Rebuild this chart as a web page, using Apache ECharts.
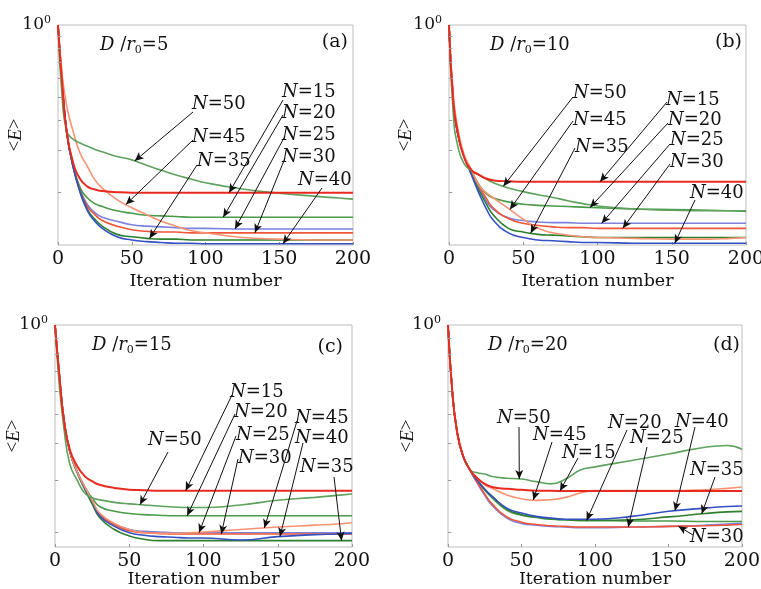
<!DOCTYPE html>
<html>
<head>
<meta charset="utf-8">
<script src="https://cdn.jsdelivr.net/npm/echarts@6/dist/echarts.min.js"></script>
<style>
html, body { margin: 0; padding: 0; background: #fff; }
#chart { width: 761px; height: 589px; }
</style>
</head>
<body>
<div id="chart"></div>
<script>
var iterations = [0, 3, 6, 10, 15, 20, 25, 30, 40, 50, 60, 70, 80, 90, 100, 125, 150, 175, 190, 200];
var sampleSizes = [15, 20, 25, 30, 35, 40, 45, 50];
var ratios = [5, 10, 15, 20];
var panelTags = ['(a)', '(b)', '(c)', '(d)'];
var xTicks = [0, 50, 100, 150, 200];
var yMinorTicks = [0.2, 0.3, 0.4, 0.5, 0.6, 0.7, 0.8, 0.9];

// (a) D/r0 = 5
var errA15 = [1, 0.553, 0.354, 0.27, 0.228, 0.212, 0.206, 0.203, 0.201, 0.2, 0.2, 0.2, 0.2, 0.2, 0.2, 0.2, 0.2, 0.2, 0.2, 0.2];
var errA20 = [1, 0.553, 0.354, 0.265, 0.21, 0.19, 0.18, 0.175, 0.168, 0.164, 0.161, 0.16, 0.159, 0.158, 0.158, 0.158, 0.158, 0.158, 0.158, 0.158];
var errA25 = [1, 0.553, 0.354, 0.262, 0.205, 0.178, 0.165, 0.158, 0.152, 0.147, 0.145, 0.144, 0.143, 0.142, 0.142, 0.141, 0.141, 0.141, 0.141, 0.141];
var errA30 = [1, 0.553, 0.354, 0.262, 0.205, 0.175, 0.162, 0.153, 0.145, 0.14, 0.138, 0.137, 0.137, 0.136, 0.136, 0.136, 0.136, 0.136, 0.136, 0.136];
var errA35 = [1, 0.553, 0.354, 0.26, 0.203, 0.17, 0.155, 0.145, 0.134, 0.131, 0.129, 0.128, 0.128, 0.127, 0.127, 0.127, 0.127, 0.127, 0.127, 0.127];
var errA40 = [1, 0.553, 0.354, 0.26, 0.2, 0.168, 0.152, 0.142, 0.131, 0.127, 0.125, 0.124, 0.123, 0.123, 0.1225, 0.1225, 0.1225, 0.1225, 0.1225, 0.1225];
var errA45 = [1, 0.609, 0.457, 0.365, 0.292, 0.257, 0.226, 0.209, 0.187, 0.173, 0.162, 0.152, 0.145, 0.139, 0.136, 0.13, 0.128, 0.127, 0.127, 0.127];
var errA50 = [1, 0.48, 0.36, 0.335, 0.322, 0.312, 0.303, 0.296, 0.283, 0.274, 0.26, 0.248, 0.237, 0.228, 0.22, 0.207, 0.199, 0.193, 0.19, 0.188];

// (b) D/r0 = 10
var errB15 = [1, 0.47, 0.354, 0.283, 0.249, 0.238, 0.229, 0.225, 0.223, 0.222, 0.222, 0.222, 0.222, 0.222, 0.222, 0.222, 0.222, 0.222, 0.222, 0.222];
var errB20 = [1, 0.47, 0.35, 0.285, 0.247, 0.217, 0.198, 0.19, 0.183, 0.179, 0.177, 0.176, 0.175, 0.174, 0.173, 0.171, 0.17, 0.169, 0.168, 0.167];
var errB25 = [1, 0.47, 0.35, 0.285, 0.245, 0.212, 0.185, 0.17, 0.157, 0.153, 0.151, 0.15, 0.15, 0.149, 0.149, 0.149, 0.149, 0.149, 0.149, 0.149];
var errB30 = [1, 0.47, 0.35, 0.285, 0.245, 0.214, 0.19, 0.172, 0.156, 0.149, 0.146, 0.144, 0.143, 0.143, 0.142, 0.142, 0.142, 0.142, 0.142, 0.142];
var errB35 = [1, 0.47, 0.35, 0.285, 0.24, 0.206, 0.18, 0.161, 0.142, 0.137, 0.134, 0.133, 0.132, 0.131, 0.13, 0.13, 0.13, 0.13, 0.13, 0.13];
var errB40 = [1, 0.47, 0.35, 0.285, 0.238, 0.2, 0.172, 0.153, 0.136, 0.13, 0.127, 0.126, 0.125, 0.124, 0.124, 0.123, 0.123, 0.123, 0.123, 0.123];
var errB45 = [1, 0.5, 0.37, 0.29, 0.25, 0.215, 0.2, 0.19, 0.172, 0.155, 0.142, 0.136, 0.133, 0.131, 0.13, 0.129, 0.128, 0.128, 0.129, 0.13];
var errB50 = [1, 0.415, 0.311, 0.265, 0.247, 0.237, 0.228, 0.22, 0.209, 0.202, 0.196, 0.191, 0.185, 0.18, 0.176, 0.171, 0.169, 0.168, 0.168, 0.168];

// (c) D/r0 = 15
var errC15 = [1, 0.67, 0.48, 0.38, 0.335, 0.31, 0.298, 0.29, 0.283, 0.279, 0.278, 0.277, 0.277, 0.277, 0.277, 0.277, 0.277, 0.277, 0.277, 0.277];
var errC20 = [1, 0.67, 0.48, 0.375, 0.32, 0.285, 0.262, 0.245, 0.236, 0.232, 0.23, 0.229, 0.228, 0.228, 0.228, 0.228, 0.228, 0.228, 0.228, 0.228];
var errC25 = [1, 0.67, 0.48, 0.375, 0.32, 0.285, 0.255, 0.232, 0.214, 0.205, 0.202, 0.201, 0.2, 0.2, 0.2, 0.2, 0.2, 0.2, 0.2, 0.2];
var errC30 = [1, 0.67, 0.48, 0.375, 0.32, 0.285, 0.255, 0.23, 0.212, 0.203, 0.2, 0.199, 0.198, 0.198, 0.198, 0.198, 0.198, 0.198, 0.198, 0.198];
var errC35 = [1, 0.67, 0.48, 0.375, 0.318, 0.28, 0.25, 0.225, 0.205, 0.195, 0.19, 0.188, 0.188, 0.188, 0.188, 0.188, 0.188, 0.188, 0.188, 0.188];
var errC40 = [1, 0.67, 0.48, 0.375, 0.32, 0.283, 0.255, 0.228, 0.21, 0.2, 0.196, 0.194, 0.193, 0.192, 0.192, 0.189, 0.194, 0.197, 0.198, 0.199];
var errC45 = [1, 0.67, 0.48, 0.375, 0.32, 0.285, 0.257, 0.233, 0.215, 0.205, 0.2, 0.199, 0.199, 0.2, 0.201, 0.205, 0.209, 0.212, 0.214, 0.216];
var errC50 = [1, 0.62, 0.45, 0.34, 0.3, 0.272, 0.262, 0.258, 0.253, 0.25, 0.248, 0.246, 0.244, 0.243, 0.243, 0.248, 0.257, 0.263, 0.267, 0.27];

// (d) D/r0 = 20
var errD15 = [1, 0.59, 0.443, 0.365, 0.325, 0.305, 0.292, 0.285, 0.281, 0.279, 0.277, 0.277, 0.276, 0.276, 0.276, 0.276, 0.276, 0.276, 0.276, 0.276];
var errD20 = [1, 0.59, 0.443, 0.365, 0.325, 0.298, 0.278, 0.262, 0.238, 0.229, 0.225, 0.222, 0.221, 0.22, 0.22, 0.219, 0.219, 0.218, 0.218, 0.218];
var errD25 = [1, 0.59, 0.443, 0.365, 0.325, 0.293, 0.267, 0.247, 0.224, 0.215, 0.212, 0.21, 0.209, 0.208, 0.208, 0.209, 0.21, 0.212, 0.214, 0.215];
var errD30 = [1, 0.59, 0.443, 0.365, 0.325, 0.295, 0.27, 0.25, 0.226, 0.217, 0.213, 0.211, 0.21, 0.209, 0.209, 0.209, 0.21, 0.211, 0.212, 0.213];
var errD35 = [1, 0.59, 0.443, 0.365, 0.325, 0.3, 0.28, 0.265, 0.24, 0.23, 0.226, 0.223, 0.221, 0.22, 0.22, 0.221, 0.226, 0.232, 0.235, 0.236];
var errD40 = [1, 0.59, 0.443, 0.365, 0.325, 0.3, 0.28, 0.265, 0.242, 0.233, 0.227, 0.224, 0.222, 0.222, 0.222, 0.227, 0.236, 0.242, 0.245, 0.246];
var errD45 = [1, 0.59, 0.443, 0.365, 0.325, 0.305, 0.29, 0.282, 0.268, 0.26, 0.257, 0.258, 0.263, 0.272, 0.277, 0.277, 0.277, 0.279, 0.282, 0.285];
var errD50 = [1, 0.59, 0.443, 0.365, 0.325, 0.318, 0.315, 0.309, 0.305, 0.303, 0.297, 0.292, 0.303, 0.325, 0.333, 0.35, 0.368, 0.388, 0.393, 0.382];

var panelSeries = [
    [errA15, errA20, errA25, errA30, errA35, errA40, errA45, errA50],
    [errB15, errB20, errB25, errB30, errB35, errB40, errB45, errB50],
    [errC15, errC20, errC25, errC30, errC35, errC40, errC45, errC50],
    [errD15, errD20, errD25, errD30, errD35, errD40, errD45, errD50]
];

// label notes: [N, label x, label y, arrow tail x, arrow tail y, iteration the arrow points at]
var notesA = [[50, 192, 104, 193, 112, 52], [45, 192, 137, 193, 140, 46], [35, 197, 161, 197, 165, 62],
    [15, 282, 92, 283, 100, 116], [20, 282, 113, 283, 115, 112], [25, 282, 135, 285, 136, 120],
    [30, 282, 157, 285, 158, 133.5], [40, 298, 180, 322, 188, 152.5]];
var notesB = [[50, 573, 93, 573, 97, 36.6], [45, 573, 120, 573, 121, 41], [35, 575, 147, 575, 148, 55],
    [15, 666, 100, 667, 102, 101.7], [20, 668, 120, 668, 123, 95], [25, 670, 140, 670, 144, 102.8],
    [30, 670, 162, 670, 164, 117], [40, 690, 193, 695, 200, 152]];
var notesC = [[50, 148, 440, 168, 452, 57.2], [15, 230, 392, 232, 395, 88], [20, 234, 412, 235, 414, 89],
    [25, 236, 435, 236, 436, 97], [30, 238, 458, 238, 459, 112], [45, 295, 418, 297, 421, 141],
    [40, 295, 438, 303, 443, 151.5], [35, 300, 467, 334, 477, 193]];
var notesD = [[50, 497, 418, 519, 427, 48.5], [45, 533, 435, 552, 442, 58], [15, 562, 453, 578, 458, 76.2],
    [20, 608, 423, 627, 430, 94.3], [25, 630, 438, 647, 447, 122.6], [40, 675, 422, 695, 427, 154.4],
    [35, 690, 470, 715, 477, 172.6], [30, 690, 537, 693, 535, 156.7]];
var panelNotes = [notesA, notesB, notesC, notesD];

var lineColors = ['#ea2a1f', '#4a9a4a', '#7c83dd', '#f0553a', '#2e7f2e', '#3450c4', '#f89272', '#5ea25e'];
var grids = [
    { left: 58, top: 25, width: 295, height: 220 },
    { left: 449, top: 25, width: 297, height: 220 },
    { left: 55, top: 325, width: 297, height: 222 },
    { left: 448, top: 325, width: 294, height: 222 }
];
var yMins = [0.121, 0.121, 0.179, 0.179];
var xNameGaps = [27, 27, 23, 23];
var yNameGaps = [33, 34, 32, 31];
var ratioPos = [[100, 45], [490, 45], [92, 345], [488, 345]];
var tagPos = [[348, 42], [742, 42], [343, 347], [740, 345]];

var serif = 'DejaVu Serif';
var ink = '#111';

function toPoints(values) {
    return iterations.map(function (x, i) { return [x, values[i]]; });
}

// log-space interpolation so arrow tips land on the curve
function valueAt(values, x) {
    for (var i = 1; i < iterations.length; i++) {
        if (x <= iterations[i]) {
            var t = (x - iterations[i - 1]) / (iterations[i] - iterations[i - 1]);
            return Math.pow(10, Math.log10(values[i - 1]) * (1 - t) + Math.log10(values[i]) * t);
        }
    }
    return values[values.length - 1];
}

var option = {
    animation: false,
    backgroundColor: '#fff',
    grid: [],
    xAxis: [],
    yAxis: [],
    series: [],
    graphic: []
};

grids.forEach(function (g, p) {
    option.grid.push({
        left: g.left, top: g.top, width: g.width, height: g.height,
        show: true, borderColor: '#bdbdbd', borderWidth: 1,
        outerBoundsMode: 'none'
    });
    option.xAxis.push({
        type: 'value', gridIndex: p, min: 0, max: 200, interval: 50,
        name: 'Iteration number', nameLocation: 'middle', nameGap: xNameGaps[p],
        nameMoveOverlap: false,
        nameTextStyle: { fontFamily: serif, fontSize: 17.5, color: ink },
        axisLine: { show: false },
        axisTick: { show: true, inside: true, length: 3, lineStyle: { color: '#9a9a9a' } },
        splitLine: { show: false },
        axisLabel: { fontFamily: serif, fontSize: 19, color: ink, margin: 5, showMaxLabel: true, showMinLabel: true }
    });
    option.yAxis.push({
        type: 'log', logBase: 10, gridIndex: p, min: yMins[p], max: 1,
        name: '<{e|E}>', nameLocation: 'middle', nameGap: yNameGaps[p], nameRotate: 90,
        nameMoveOverlap: false,
        nameTextStyle: {
            fontFamily: 'Liberation Serif', fontSize: 19, color: ink,
            rich: { e: { fontFamily: 'Liberation Serif', fontSize: 19, fontStyle: 'italic', color: ink } }
        },
        axisLine: { show: false },
        axisTick: { show: false },
        splitLine: { show: false },
        axisLabel: {
            showMaxLabel: true, margin: 7,
            formatter: function (v) { return Math.abs(v - 1) < 1e-6 ? '{b|10}{sup|0}' : ''; },
            rich: {
                b: { fontFamily: serif, fontSize: 17, color: ink, lineHeight: 21 },
                sup: { fontFamily: serif, fontSize: 11, color: ink, verticalAlign: 'top', lineHeight: 13 }
            }
        }
    });

    // curves
    panelSeries[p].forEach(function (values, k) {
        option.series.push({
            type: 'line', xAxisIndex: p, yAxisIndex: p,
            name: 'N=' + sampleSizes[k],
            data: toPoints(values),
            symbol: 'none', showSymbol: false,
            smooth: 0.5,
            lineStyle: { color: lineColors[k], width: k === 0 ? 2 : 1.6 },
            z: k === 0 ? 4 : 3,
            silent: true
        });
    });

    // small inside ticks on the log axis
    option.series.push({
        type: 'line', xAxisIndex: p, yAxisIndex: p, data: [], silent: true,
        markLine: {
            silent: true, animation: false, symbol: ['none', 'none'],
            label: { show: false }, emphasis: { disabled: true },
            lineStyle: { color: '#9a9a9a', width: 1, type: 'solid' },
            data: yMinorTicks.filter(function (v) { return v > yMins[p]; }).map(function (v) {
                return [{ coord: [0, v] }, { coord: [2.2, v] }];
            })
        }
    });

    // arrows from labels to curves
    option.series.push({
        type: 'line', xAxisIndex: p, yAxisIndex: p, data: [], silent: true, z: 6,
        markLine: {
            silent: true, animation: false, symbol: ['none', 'arrow'], symbolSize: [6, 9],
            label: { show: false }, emphasis: { disabled: true },
            lineStyle: { color: ink, width: 1, type: 'solid' },
            data: panelNotes[p].map(function (n) {
                var values = panelSeries[p][sampleSizes.indexOf(n[0])];
                return [{ x: n[3], y: n[4] }, { coord: [n[5], valueAt(values, n[5])] }];
            })
        }
    });

    panelNotes[p].forEach(function (n) {
        option.graphic.push({
            type: 'text', x: n[1], y: n[2], silent: true, z: 10,
            style: {
                text: '{i|N}{t|=' + n[0] + '}',
                verticalAlign: 'middle', align: 'left',
                rich: {
                    i: { fontFamily: serif, fontSize: 18, fontStyle: 'italic', fill: ink },
                    t: { fontFamily: serif, fontSize: 18, fill: ink }
                }
            }
        });
    });

    option.graphic.push({
        type: 'text', x: ratioPos[p][0], y: ratioPos[p][1], silent: true, z: 10,
        style: {
            text: '{i|D}{t| /}{i|r}{s|0}{t|=' + ratios[p] + '}',
            verticalAlign: 'middle', align: 'left',
            rich: {
                i: { fontFamily: serif, fontSize: 18, fontStyle: 'italic', fill: ink, lineHeight: 22 },
                t: { fontFamily: serif, fontSize: 18, fill: ink, lineHeight: 22 },
                s: { fontFamily: serif, fontSize: 11, fill: ink, verticalAlign: 'bottom' }
            }
        }
    });
    option.graphic.push({
        type: 'text', x: tagPos[p][0], y: tagPos[p][1], silent: true, z: 10,
        style: {
            text: panelTags[p], fontFamily: serif, fontSize: 19, fill: ink,
            align: 'right', verticalAlign: 'middle'
        }
    });
});

var chart = echarts.init(document.getElementById('chart'), null, { renderer: 'canvas' });
chart.setOption(option);
</script>
</body>
</html>
